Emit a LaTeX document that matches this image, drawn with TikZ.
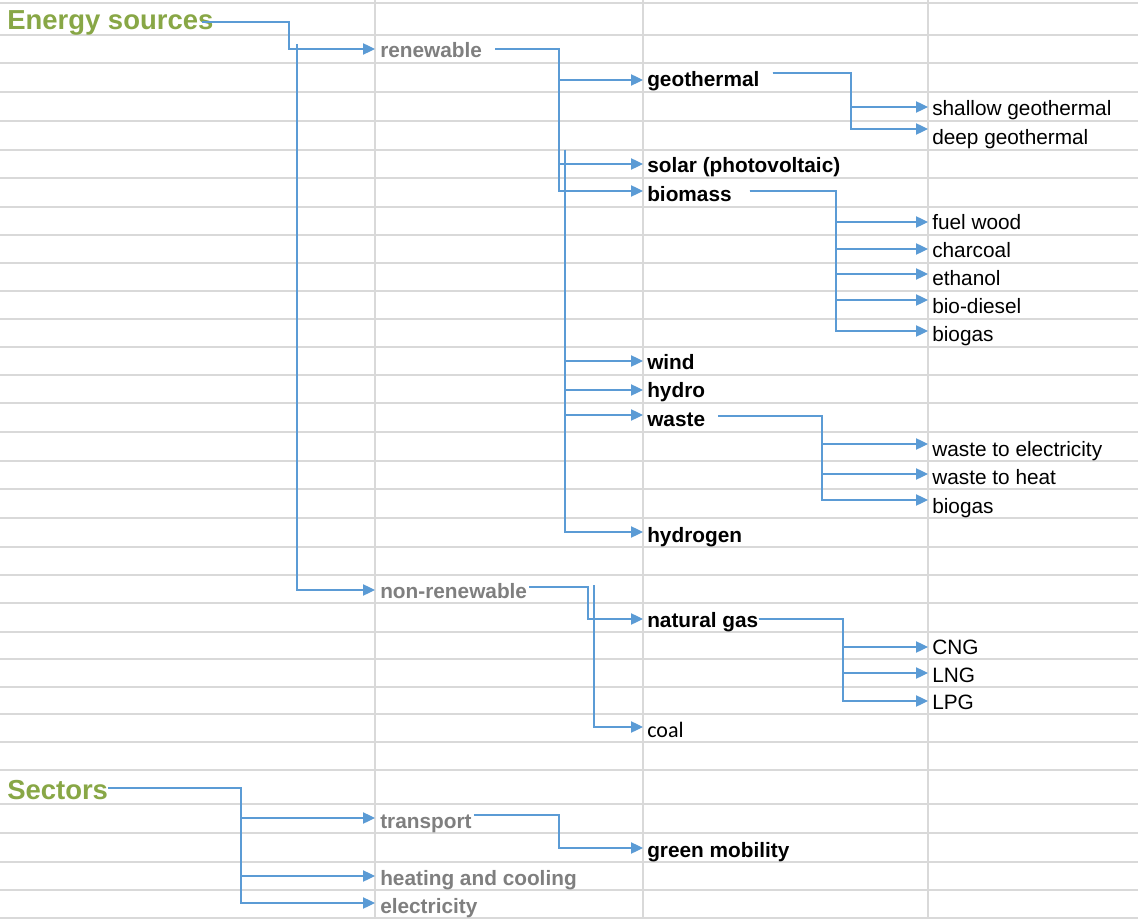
\documentclass[tikz,border=0pt]{standalone}
\usepackage{fontspec}
\setmainfont{Liberation Sans}
\newfontfamily\carlito{Carlito}
\usetikzlibrary{arrows.meta}
\definecolor{gridc}{HTML}{D9D9D9}
\definecolor{connc}{HTML}{5B9BD5}
\definecolor{headc}{HTML}{88A746}
\definecolor{grayc}{HTML}{7F7F7F}
\newcommand\inpt[3]{\coordinate (#1-in) at ([shift={(#2,#3-2)}]#1.base west);}
\newcommand\outpt[3]{\coordinate (#1-out) at ([shift={(#2,#3-2)}]#1.base east);}
\begin{document}
\begin{tikzpicture}[x=0.75pt,y=-0.75pt,
  lab/.style={anchor=base west, inner sep=0pt, yshift=-1.5pt, font=\fontsize{15.6}{18}\selectfont},
  bl/.style={lab, font=\fontsize{15.6}{18}\selectfont\bfseries},
  gr/.style={bl, text=grayc},
  hd/.style={lab, font=\fontsize{20.6}{24}\selectfont\bfseries, text=headc},
  conn/.style={draw=connc, line width=0.9pt, -{Triangle[length=9pt,width=8.5pt]}},
  gridl/.style={draw=gridc, line width=1.2pt}]
\useasboundingbox[fill=white] (0,0) rectangle (1138,919);
% grid
\foreach \y in {3,35,63,92,121,150,178,207,235,263,291,319,347,375,403,432,461,489,518,547,575,603,632,659,687,714,742,770,804,833,862,890,918}
  \draw[gridl] (0,\y) -- (1138,\y);
\foreach \x in {375,643,928}
  \draw[gridl] (\x,0) -- (\x,919);
% texts
\node[hd] (es) at (7,28) {Energy sources};
\node[gr] (ren) at (380,56) {renewable};
\node[gr] (nonren) at (380,596) {non-renewable};
\node[bl] (geo) at (647,85) {geothermal};
\node[bl] (sol) at (647,171) {solar (photovoltaic)};
\node[bl] (bio) at (647,200) {biomass};
\node[bl] (wind) at (647,368) {wind};
\node[bl] (hydro) at (647,396) {hydro};
\node[bl] (waste) at (647,425) {waste};
\node[bl] (hyd) at (647,540) {hydrogen};
\node[bl] (ng) at (647,625) {natural gas};
\node[lab, font=\carlito\fontsize{16.5}{18}\selectfont] (coal) at (647,735) {coal};
\node[lab] (shal) at (932,114) {shallow geothermal};
\node[lab] (deep) at (932,143) {deep geothermal};
\node[lab] (fw) at (932,228) {fuel wood};
\node[lab] (char) at (932,256) {charcoal};
\node[lab] (eth) at (932,284) {ethanol};
\node[lab] (bd) at (932,312) {bio-diesel};
\node[lab] (bga) at (932,340) {biogas};
\node[lab] (wte) at (932,454) {waste to electricity};
\node[lab] (wth) at (932,482) {waste to heat};
\node[lab] (bgb) at (932,511) {biogas};
\node[lab] (cng) at (932,652) {CNG};
\node[lab] (lng) at (932,680) {LNG};
\node[lab] (lpg) at (932,707) {LPG};
\node[hd] (sec) at (7,797) {Sectors};
\node[gr] (tr) at (380,826) {transport};
\node[bl] (gm) at (647,855) {green mobility};
\node[gr] (heat) at (380,883) {heating and cooling};
\node[gr] (elec) at (380,911) {electricity};
% arrow end points
\inpt{ren}{-5}{-7}
\inpt{nonren}{-5}{-6}
\inpt{geo}{-4}{-5}
\inpt{sol}{-4}{-7}
\inpt{bio}{-4}{-9}
\inpt{wind}{-4}{-7}
\inpt{hydro}{-4}{-6}
\inpt{waste}{-4}{-10}
\inpt{hyd}{-4}{-8}
\inpt{ng}{-4}{-6}
\inpt{coal}{-4}{-8}
\inpt{shal}{-4}{-7}
\inpt{deep}{-4}{-14}
\inpt{fw}{-4}{-6}
\inpt{char}{-4}{-7}
\inpt{eth}{-4}{-10}
\inpt{bd}{-4}{-12}
\inpt{bga}{-4}{-9}
\inpt{wte}{-4}{-10}
\inpt{wth}{-4}{-8}
\inpt{bgb}{-4}{-11}
\inpt{cng}{-4}{-5}
\inpt{lng}{-4}{-7}
\inpt{lpg}{-4}{-6}
\inpt{tr}{-5}{-8}
\inpt{gm}{-4}{-7}
\inpt{heat}{-5}{-7}
\inpt{elec}{-5}{-8}
% start points
\outpt{es}{-12}{-6}
\outpt{ren}{13}{-7}
\outpt{nonren}{2}{-9}
\outpt{geo}{13}{-12}
\outpt{bio}{18}{-9}
\outpt{waste}{13}{-9}
\outpt{ng}{0}{-6}
\outpt{sec}{0}{-9}
\outpt{tr}{2}{-11}
\coordinate (esdrop) at (297,44);
\coordinate (rendrop) at (565,150);
\coordinate (nrdrop) at (594,585);
% trunks
\coordinate (kes) at (289,0);
\coordinate (kren) at (559,0);
\coordinate (kgeo) at (851,0);
\coordinate (kbio) at (836,0);
\coordinate (kwaste) at (822,0);
\coordinate (knr) at (588,0);
\coordinate (kng) at (843,0);
\coordinate (ksec) at (241,0);
\coordinate (ktr) at (559,0);
% connectors
\draw[conn] (es-out) -| (kes |- ren-in) -- (ren-in);
\draw[conn] (esdrop) |- (nonren-in);
\foreach \t in {geo,sol,bio}
  \draw[conn] (ren-out) -| (kren |- \t-in) -- (\t-in);
\foreach \t in {wind,hydro,waste,hyd}
  \draw[conn] (rendrop) |- (\t-in);
\foreach \t in {shal,deep}
  \draw[conn] (geo-out) -| (kgeo |- \t-in) -- (\t-in);
\foreach \t in {fw,char,eth,bd,bga}
  \draw[conn] (bio-out) -| (kbio |- \t-in) -- (\t-in);
\foreach \t in {wte,wth,bgb}
  \draw[conn] (waste-out) -| (kwaste |- \t-in) -- (\t-in);
\draw[conn] (nonren-out) -| (knr |- ng-in) -- (ng-in);
\draw[conn] (nrdrop) |- (coal-in);
\foreach \t in {cng,lng,lpg}
  \draw[conn] (ng-out) -| (kng |- \t-in) -- (\t-in);
\foreach \t in {tr,heat,elec}
  \draw[conn] (sec-out) -| (ksec |- \t-in) -- (\t-in);
\draw[conn] (tr-out) -| (ktr |- gm-in) -- (gm-in);
\end{tikzpicture}
\end{document}
